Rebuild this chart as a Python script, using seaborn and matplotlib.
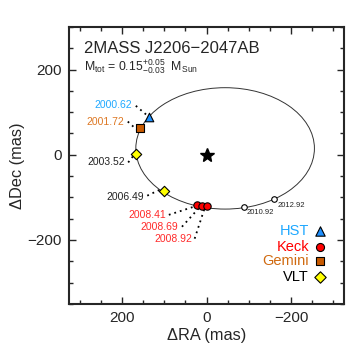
import numpy as np
import pandas as pd
import matplotlib
matplotlib.use("Agg")
import matplotlib.pyplot as plt
from matplotlib.patches import Ellipse
import seaborn as sns

# --- data (mas) ---
epochs = ["2000.62", "2001.72", "2003.52", "2006.49", "2008.41", "2008.69", "2008.92"]
telescopes = ["HST", "Gemini", "VLT", "VLT", "Keck", "Keck", "Keck"]
ra = [137, 157, 166, 101, 22, 10, -1]
dec = [89, 63, 2, -86, -118, -121, -121]

# label anchors (right edge of text) and leader line start/end
label_ra = [175, 195, 193, 148, 95, 66, 34]
label_dec = [117, 77, -18, -98, -141, -170, -198]
lead_ra0 = [167, 186, 185, 140, 89, 58, 28]
lead_dec0 = [115, 78, -18, -96, -141, -169, -197]
lead_ra1 = [142, 165, 174, 110, 30, 16, 5]
lead_dec1 = [94, 59, -4, -82, -122, -123, -127]

# predicted positions
pred_epochs = ["2010.92", "2012.92"]
pred_ra = [-88, -159]
pred_dec = [-122, -104]
pred_label_ra = [-95, -167]
pred_label_dec = [-136, -118]

# fitted orbit (apparent ellipse)
orbit_center = (-44, 15)
orbit_width = 422
orbit_height = 285
orbit_angle = 0

tel_names = ["HST", "Keck", "Gemini", "VLT"]
tel_colors = {"HST": "#1E90FF", "Keck": "#FF0000", "Gemini": "#C85A00", "VLT": "#FFFF00"}
text_colors = {"HST": "#1EA8FF", "Keck": "#FF2A2A", "Gemini": "#DD7722", "VLT": "#222222"}
legend_colors = {"HST": "#1EA8FF", "Keck": "#FF0000", "Gemini": "#D06A10", "VLT": "#000000"}
tel_markers = {"HST": "^", "Keck": "o", "Gemini": "s", "VLT": "D"}
tel_sizes = {"HST": 38, "Keck": 28, "Gemini": 26, "VLT": 28}

sns.set_theme(style="ticks")
plt.rcParams["font.family"] = ["Liberation Sans", "DejaVu Sans"]
plt.rcParams["mathtext.fontset"] = "custom"
plt.rcParams["mathtext.rm"] = "Liberation Sans"
plt.rcParams["mathtext.it"] = "Liberation Sans:italic"

df = pd.DataFrame({"epoch": epochs, "tel": telescopes, "ra": ra, "dec": dec})

fig = plt.figure(figsize=(3.5, 3.6), dpi=100)
ax = fig.add_axes([0.197, 0.156, 0.786, 0.769])

ax.add_patch(Ellipse(orbit_center, orbit_width, orbit_height, angle=orbit_angle,
                     fill=False, edgecolor="#333333", linewidth=0.7, zorder=1))

# leader lines and epoch labels
for i in range(len(epochs)):
    ax.plot([lead_ra0[i], lead_ra1[i]], [lead_dec0[i], lead_dec1[i]],
            color="black", linestyle=(0, (1, 2.2)), linewidth=1.3, zorder=2)
    ax.text(label_ra[i], label_dec[i], epochs[i], ha="right", va="center",
            fontsize=7.5, color=text_colors[telescopes[i]])

for name in tel_names:
    sub = df[df["tel"] == name]
    sns.scatterplot(data=sub, x="ra", y="dec", ax=ax, marker=tel_markers[name],
                    color=tel_colors[name], edgecolor="black", linewidth=0.8,
                    s=tel_sizes[name], zorder=4, legend=False)

ax.scatter(pred_ra, pred_dec, s=16, facecolor="white", edgecolor="black", linewidth=0.8, zorder=4)
for i in range(len(pred_epochs)):
    ax.text(pred_label_ra[i], pred_label_dec[i], pred_epochs[i], ha="left", va="center",
            fontsize=5.5, color="#222222")

ax.plot([0], [0], marker="*", markersize=10, color="black", linestyle="none", zorder=5)

# title block
ax.text(0.056, 0.923, "2MASS J2206\u22122047AB", transform=ax.transAxes,
        ha="left", va="center", fontsize=12)
ax.text(0.056, 0.857, r"M$_{\rm tot}$ = 0.15$^{+0.05}_{-0.03}$  M$_{\rm Sun}$",
        transform=ax.transAxes, ha="left", va="center", fontsize=8.8)

# hand-drawn legend
leg_y = [0.264, 0.207, 0.155, 0.096]
for name, y in zip(tel_names, leg_y):
    ax.text(0.873, y, name, transform=ax.transAxes, ha="right", va="center",
            fontsize=10.5, color=legend_colors[name])
    ax.scatter([0.912], [y], transform=ax.transAxes, marker=tel_markers[name],
               s=tel_sizes[name] * 1.2, color=tel_colors[name], edgecolor="black",
               linewidth=0.8, zorder=5, clip_on=False)

ax.set_xlim(325, -325)
ax.set_ylim(-350, 300)
ax.set_xticks([200, 0, -200])
ax.set_yticks([-200, 0, 200])
ax.set_xticks(np.arange(-300, 301, 50), minor=True)
ax.set_yticks(np.arange(-350, 301, 50), minor=True)
ax.set_xticklabels(["200", "0", "\u2212200"])
ax.set_yticklabels(["\u2212200", "0", "200"])
ax.tick_params(which="both", direction="in", top=True, right=True, labelsize=11, width=1)
ax.tick_params(which="major", length=5, pad=5)
ax.tick_params(which="minor", length=3)
for sp in ax.spines.values():
    sp.set_linewidth(1.5)

ax.set_xlabel("\u0394RA (mas)", fontsize=11.8, labelpad=2)
ax.set_ylabel("\u0394Dec (mas)", fontsize=11.8, labelpad=2)

fig.savefig("out.png", dpi=100)
